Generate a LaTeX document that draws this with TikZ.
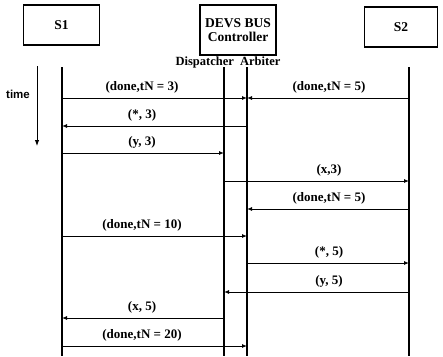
\documentclass[tikz,border=0pt]{standalone}
\usepackage{fontspec}
\setmainfont{Liberation Serif}
\setsansfont{Liberation Sans}
\usetikzlibrary{arrows.meta,positioning}

\begin{document}
\begin{tikzpicture}[
  x=1pt, y=-1pt,
  unit/.style={draw, line width=1.1pt, minimum width=76pt, minimum height=40pt,
    inner sep=1pt, align=center, font=\fontsize{13.5}{14}\selectfont\rmfamily\bfseries},
  life/.style={line width=2pt},
  msg/.style={-{Latex[length=5pt,width=4pt]}, line width=0.9pt},
  lbl/.style={above=1pt, font=\fontsize{13}{15}\selectfont\bfseries}
]
  \useasboundingbox (0,0) rectangle (443,356);

  % the three units
  \node[unit] (sone) at (61.5,25) {S1};
  \node[unit, minimum height=50pt] (bus) at (238,30) {DEVS BUS\\Controller};
  \node[unit, minimum width=73pt] (stwo) at (401,27) {S2};
  \node[font=\fontsize{12.5}{14}\selectfont\bfseries, inner sep=0pt] (roles) at (228,62.5) {Dispatcher\ \ Arbiter};

  % lifelines
  \coordinate (s1) at (62,67);   \coordinate (s1end) at (62,356);
  \coordinate (disp) at (224,67); \coordinate (dispend) at (224,356);
  \coordinate (arb) at (247,67);  \coordinate (arbend) at (247,356);
  \coordinate (s2) at (409,67);   \coordinate (s2end) at (409,356);
  \draw[life] (s1) -- (s1end);
  \draw[life] (disp) -- (dispend);
  \draw[life] (arb) -- (arbend);
  \draw[life] (s2) -- (s2end);

  % time axis
  \coordinate (ttop) at (37,66);
  \coordinate (tbot) at (37,146);
  \draw[-{Latex[length=6pt,width=4.5pt]}, line width=0.9pt] (ttop) -- (tbot);
  \node[font=\fontsize{11.5}{13}\sffamily\bfseries] (time) at (18,94) {time};

  % label columns and message rows
  \coordinate (lcol) at (142,0);
  \coordinate (rcol) at (329,0);
  \coordinate (r1) at (0,98);
  \coordinate (r2) at (0,126);
  \coordinate (r3) at (0,153);
  \coordinate (r4) at (0,181);
  \coordinate (r5) at (0,209);
  \coordinate (r6) at (0,236);
  \coordinate (r7) at (0,263);
  \coordinate (r8) at (0,292);
  \coordinate (r9) at (0,318);
  \coordinate (r10) at (0,346);

  % messages
  \draw[msg] (s1 |- r1) -- (arb |- r1);
  \node[lbl] at (lcol |- r1) {(done,tN = 3)};
  \draw[msg] (s2 |- r1) -- (arb |- r1);
  \node[lbl] at (rcol |- r1) {(done,tN = 5)};

  \draw[msg] (arb |- r2) -- (s1 |- r2);
  \node[lbl] at (lcol |- r2) {(*, 3)};

  \draw[msg] (s1 |- r3) -- (disp |- r3);
  \node[lbl] at (lcol |- r3) {(y, 3)};

  \draw[msg] (disp |- r4) -- (s2 |- r4);
  \node[lbl] at (rcol |- r4) {(x,3)};

  \draw[msg] (s2 |- r5) -- (arb |- r5);
  \node[lbl] at (rcol |- r5) {(done,tN = 5)};

  \draw[msg] (s1 |- r6) -- (arb |- r6);
  \node[lbl] at (lcol |- r6) {(done,tN = 10)};

  \draw[msg] (arb |- r7) -- (s2 |- r7);
  \node[lbl] at (rcol |- r7) {(*, 5)};

  \draw[msg] (s2 |- r8) -- (disp |- r8);
  \node[lbl] at (rcol |- r8) {(y, 5)};

  \draw[msg] (disp |- r9) -- (s1 |- r9);
  \node[lbl] at (lcol |- r9) {(x, 5)};

  \draw[msg] (s1 |- r10) -- (arb |- r10);
  \node[lbl] at (lcol |- r10) {(done,tN = 20)};
\end{tikzpicture}
\end{document}
